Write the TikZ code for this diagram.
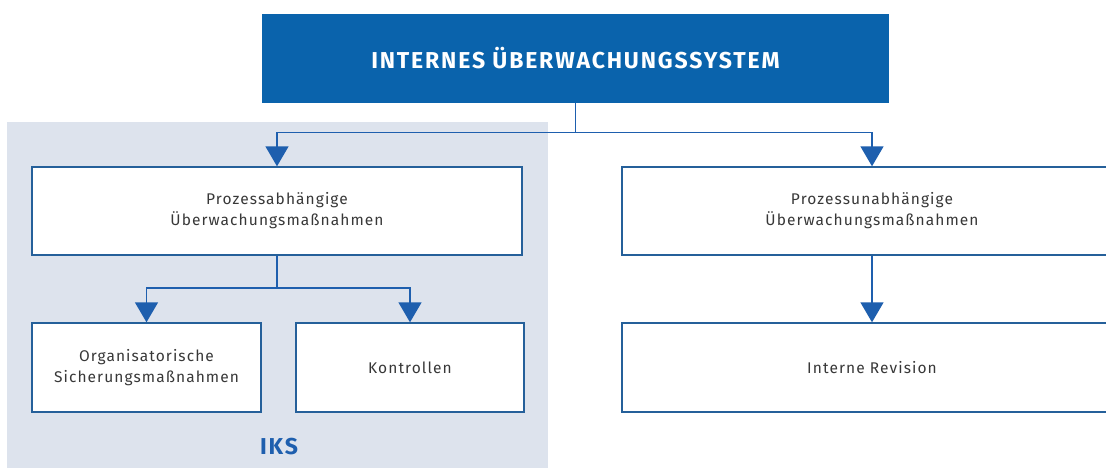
\documentclass[tikz,border=0pt]{standalone}
\usepackage{fontspec}
\setmainfont{Fira Sans}
\newfontfamily\bodyfont[LetterSpace=7]{Fira Sans}
\newfontfamily\titlefont[LetterSpace=8]{Fira Sans Bold}
\usetikzlibrary{arrows.meta}
\definecolor{topblue}{HTML}{0A63AC}
\definecolor{lineblue}{HTML}{1E5FAE}
\definecolor{borderblue}{HTML}{25609A}
\definecolor{iksgray}{HTML}{DDE3ED}
\definecolor{txtgray}{HTML}{383838}
\tikzset{
  x=1pt, y=-1pt,
  box/.style={draw=borderblue, line width=1.4pt, fill=white, inner sep=0pt,
    text=txtgray, align=center, font=\bodyfont\fontsize{15.5}{21}\selectfont},
  arr/.style={draw=lineblue, line width=1.5pt,
    -{Triangle[width=23pt,length=20pt]}},
  conn/.style={draw=lineblue, line width=1.5pt},
}
\begin{document}
\begin{tikzpicture}
\useasboundingbox (0,0) rectangle (1106,467);
\fill[white] (0,0) rectangle (1106,467);
% IKS background
\fill[iksgray] (7,122) rectangle (548,470);
% top node
\node[fill=topblue, minimum width=627pt, minimum height=89pt, inner sep=0pt,
  text=white, font=\titlefont\fontsize{23}{26}\selectfont] (top) at (575.5,58.5)
  {INTERNES ÜBERWACHUNGSSYSTEM};
% boxes
\node[box, minimum width=490pt, minimum height=88pt] (pa) at (277,211)
  {Prozessabhängige\\Überwachungsmaßnahmen};
\node[box, minimum width=229pt, minimum height=89pt] (org) at (146.5,367.5)
  {Organisatorische\\Sicherungsmaßnahmen};
\node[box, minimum width=228pt, minimum height=89pt] (kon) at (410,367.5)
  {Kontrollen};
\node[box, minimum width=500pt, minimum height=88pt] (pu) at (872,211)
  {Prozessunabhängige\\Überwachungsmaßnahmen};
\node[box, minimum width=500pt, minimum height=89pt] (rev) at (872,367.5)
  {Interne Revision};
\node[text=lineblue, font=\titlefont\fontsize{23}{26}\selectfont] (iks) at (279,447) {IKS};
% connectors
\coordinate (j1) at (575.5,132.5);
\coordinate (j2) at (277,288);
\draw[conn] (top.south) -- (j1);
\draw[arr] (j1) -| (pa.north);
\draw[arr] (j1) -| (pu.north);
\draw[conn] (pa.south) -- (j2);
\draw[arr] (j2) -| (org.north);
\draw[arr] (j2) -| (kon.north);
\draw[arr] (pu.south) -- (rev.north);
\end{tikzpicture}
\end{document}
